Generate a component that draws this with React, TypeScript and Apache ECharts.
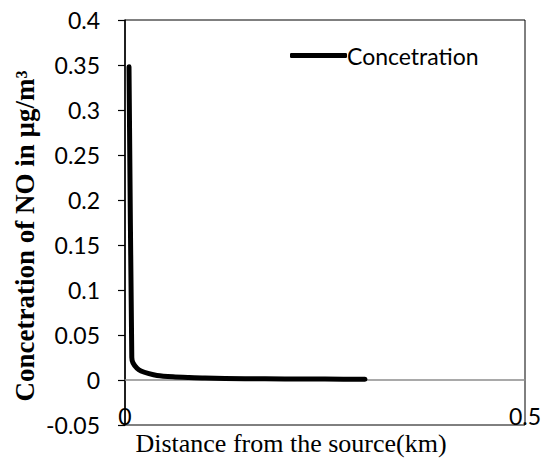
import React, { useEffect, useRef } from "react";
import * as echarts from "echarts";

const xValues = [0.005, 0.0085, 0.01, 0.015, 0.02, 0.03, 0.04, 0.06, 0.08, 0.1, 0.15, 0.2, 0.25, 0.3];
const yValues = [0.348, 0.025, 0.019, 0.013, 0.01, 0.007, 0.005, 0.0035, 0.0027, 0.0021, 0.0015, 0.0012, 0.001, 0.0008];
const seriesName = "Concetration";
const xTitle = "Distance from the source(km)";
const yTitle = "Concetration of NO in µg/m³";
const yMin = -0.05;
const yMax = 0.4;
const yStep = 0.05;
const xMin = 0;
const xMax = 0.5;

export default function App() {
  const ref = useRef<HTMLDivElement>(null);
  useEffect(() => {
    if (!ref.current) return;
    const chart = echarts.init(ref.current, undefined, { renderer: "svg" });
    const data = xValues.map((x, i) => [x, yValues[i]]);
    chart.setOption({
      animation: false,
      backgroundColor: "#fff",
      grid: {
        left: 125,
        right: 16,
        top: 20,
        bottom: 33,
        show: true,
        borderColor: "#000",
        borderWidth: 1,
        backgroundColor: "transparent",
        containLabel: false,
        outerBoundsMode: "none",
      },
      legend: {
        show: true,
        left: 285,
        top: 39,
        icon: "roundRect",
        itemWidth: 57,
        itemHeight: 5,
        itemGap: 0,
        textStyle: { fontFamily: "Lato", fontSize: 23, color: "#000", padding: [0, 0, 0, -5] },
        data: [seriesName],
      },
      xAxis: {
        type: "value",
        min: xMin,
        max: xMax,
        interval: xMax - xMin,
        axisLine: { show: true, onZero: true, lineStyle: { color: "#8c8c8c", width: 1.5 } },
        axisTick: { show: false },
        splitLine: { show: false },
        axisLabel: {
          show: true,
          margin: -21,
          fontFamily: "Lato",
          fontSize: 23,
          color: "#000",
          formatter: (v: number) => String(v),
        },
      },
      yAxis: {
        type: "value",
        min: yMin,
        max: yMax,
        interval: yStep,
        axisLine: { show: true, onZero: false, lineStyle: { color: "#000", width: 1.5 } },
        axisTick: { show: true, inside: false, length: 7, lineStyle: { color: "#000", width: 1.2 } },
        splitLine: { show: false },
        axisLabel: {
          margin: 25,
          fontFamily: "Lato",
          fontSize: 23,
          color: "#000",
          formatter: (v: number) => String(Math.round(v * 100) / 100),
        },
      },
      graphic: [
        {
          type: "text",
          x: 25,
          y: 236,
          rotation: Math.PI / 2,
          style: {
            text: yTitle,
            font: "bold 27px 'Liberation Serif'",
            fill: "#000",
            align: "center",
            verticalAlign: "middle",
          },
        },
        {
          type: "text",
          x: 291,
          y: 443,
          style: {
            text: xTitle,
            font: "26px 'Liberation Serif'",
            fill: "#000",
            align: "center",
            verticalAlign: "middle",
          },
        },
      ],
      series: [
        {
          name: seriesName,
          type: "line",
          data,
          symbol: "none",
          showSymbol: false,
          smooth: 0.25,
          lineStyle: { color: "#000", width: 5, cap: "round", join: "round" },
          itemStyle: { color: "#000" },
        },
      ],
    });
    return () => chart.dispose();
  }, []);
  return (
    <div
      ref={ref}
      style={{ position: "fixed", left: 0, top: 0, width: 541, height: 458, background: "#fff" }}
    />
  );
}
